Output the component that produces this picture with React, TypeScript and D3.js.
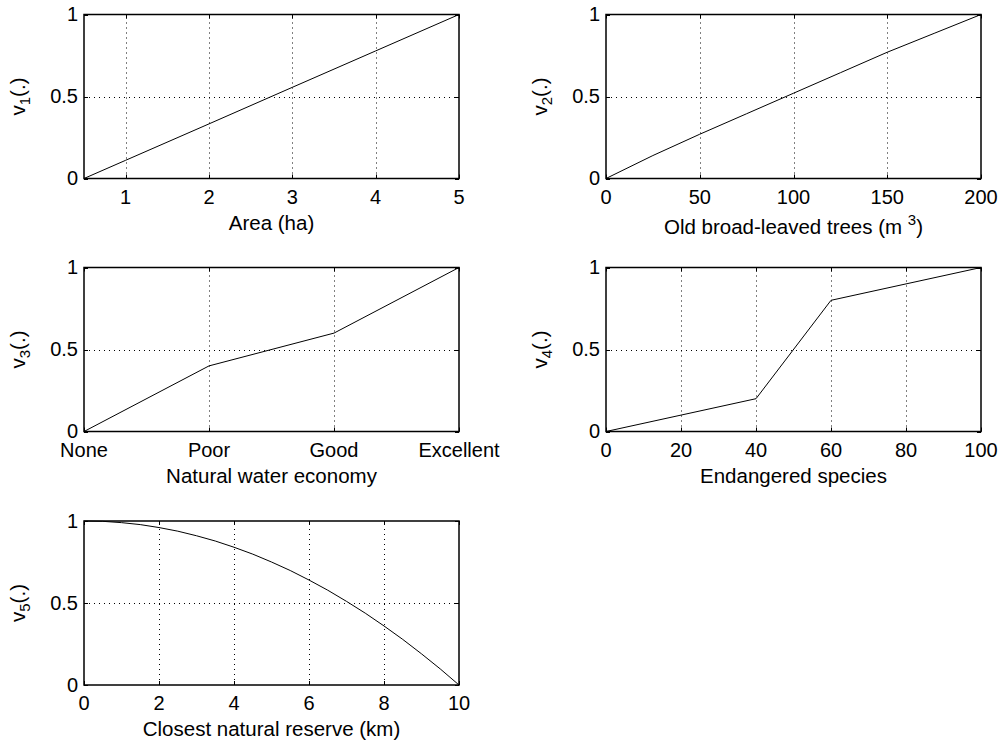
import React from "react";
import * as d3 from "d3";

// ---- data ----
const areaX = [0.5, 1, 2, 3, 4, 5];
const areaV = [0, 0.111, 0.333, 0.556, 0.778, 1];
const areaTicks = [1, 2, 3, 4, 5];

const treesX = [0, 25, 50, 75, 100, 125, 150, 175, 200];
const treesV = [0, 0.14, 0.27, 0.395, 0.52, 0.645, 0.77, 0.885, 1];
const treesTicks = [0, 50, 100, 150, 200];

const waterCats = ["None", "Poor", "Good", "Excellent"];
const waterV = [0, 0.4, 0.6, 1];

const speciesX = [0, 40, 60, 100];
const speciesV = [0, 0.2, 0.8, 1];
const speciesTicks = [0, 20, 40, 60, 80, 100];

const reserveX = [0, 0.5, 1, 1.5, 2, 2.5, 3, 3.5, 4, 4.5, 5, 5.5, 6, 6.5, 7, 7.5, 8, 8.5, 9, 9.5, 10];
const reserveV = [1, 0.998, 0.99, 0.978, 0.96, 0.938, 0.91, 0.878, 0.84, 0.798, 0.75, 0.698, 0.64, 0.578, 0.51, 0.438, 0.36, 0.278, 0.19, 0.098, 0];
const reserveTicks = [0, 2, 4, 6, 8, 10];

const yTicks = [0, 0.5, 1];
const yTickLabels = ["0", "0.5", "1"];

const FONT = "'Liberation Sans', Arial, Helvetica, sans-serif";
const FS = 20;
const LFS = 20.5;

type PanelProps = {
  left: number;
  top: number;
  xs: any[];
  vs: number[];
  xScale: any;
  xTicks: any[];
  xTickLabels: string[];
  sub: string;
  xlabel: React.ReactNode;
  xlabelDy?: number;
};

const W = 375;
const H = 164;
const crisp = (v: number) => Math.round(v) + 0.5;

function Panel({ left, top, xs, vs, xScale, xTicks, xTickLabels, sub, xlabel, xlabelDy = 51 }: PanelProps) {
  const y = d3.scaleLinear().domain([0, 1]).range([top + H, top]);
  const line = d3
    .line<number>()
    .x((_, i) => xScale(xs[i]))
    .y((d) => y(d));
  const x0 = left;
  const x1 = left + W;
  const y0 = top + H;
  const y1 = top;
  const tl = 4;
  return (
    <g>
      {/* grid */}
      {xTicks.map((t, i) => {
        const px = xScale(t);
        if (Math.abs(px - x0) < 1 || Math.abs(px - x1) < 1) return null;
        return (
          <line key={"gx" + i} x1={crisp(px)} x2={crisp(px)} y1={y0} y2={y1} stroke="#000" strokeWidth={1} strokeDasharray="1,4" />
        );
      })}
      {yTicks.map((t, i) => {
        const py = y(t);
        if (Math.abs(py - y0) < 1 || Math.abs(py - y1) < 1) return null;
        return (
          <line key={"gy" + i} x1={x0} x2={x1} y1={crisp(py)} y2={crisp(py)} stroke="#000" strokeWidth={1} strokeDasharray="1,4" />
        );
      })}
      {/* ticks */}
      {xTicks.map((t, i) => {
        const px = xScale(t);
        return (
          <g key={"tx" + i}>
            <line x1={crisp(px)} x2={crisp(px)} y1={y0} y2={y0 - tl} stroke="#000" strokeWidth={1} />
            <line x1={crisp(px)} x2={crisp(px)} y1={y1} y2={y1 + tl} stroke="#000" strokeWidth={1} />
            <text x={px} y={y0 + 25} textAnchor="middle" fontSize={FS} fontFamily={FONT}>
              {xTickLabels[i]}
            </text>
          </g>
        );
      })}
      {yTicks.map((t, i) => {
        const py = y(t);
        return (
          <g key={"ty" + i}>
            <line x1={x0} x2={x0 + tl} y1={crisp(py)} y2={crisp(py)} stroke="#000" strokeWidth={1} />
            <line x1={x1} x2={x1 - tl} y1={crisp(py)} y2={crisp(py)} stroke="#000" strokeWidth={1} />
            <text x={x0 - 6} y={py + 6.5} textAnchor="end" fontSize={FS} fontFamily={FONT}>
              {yTickLabels[i]}
            </text>
          </g>
        );
      })}
      {/* data */}
      <path d={line(vs) || ""} fill="none" stroke="#000" strokeWidth={1} />
      {/* frame */}
      <rect x={x0} y={y1} width={W} height={H} fill="none" stroke="#000" strokeWidth={1.5} />
      {/* labels */}
      <text x={(x0 + x1) / 2} y={y0 + xlabelDy} textAnchor="middle" fontSize={LFS} fontFamily={FONT}>
        {xlabel}
      </text>
      <text
        transform={`translate(${x0 - 59},${(y0 + y1) / 2}) rotate(-90)`}
        textAnchor="middle"
        fontSize={LFS}
        fontFamily={FONT}
      >
        v
        <tspan fontSize={15} dy={5}>
          {sub}
        </tspan>
        <tspan dy={-5}>(.)</tspan>
      </text>
    </g>
  );
}

export default function App() {
  const L1 = 84;
  const L2 = 606;
  const T1 = 14.5;
  const T2 = 267.5;
  const T3 = 521;

  const xArea = d3.scaleLinear().domain([0.5, 5]).range([L1, L1 + W]);
  const xTrees = d3.scaleLinear().domain([0, 200]).range([L2, L2 + W]);
  const xWater = d3.scalePoint<string>().domain(waterCats).range([L1, L1 + W]);
  const xSpecies = d3.scaleLinear().domain([0, 100]).range([L2, L2 + W]);
  const xReserve = d3.scaleLinear().domain([0, 10]).range([L1, L1 + W]);

  return (
    <svg
      width={1001}
      height={745}
      style={{ position: "absolute", left: 0, top: 0, background: "#fff" }}
    >
      <rect x={0} y={0} width={1001} height={745} fill="#fff" />
      <Panel
        left={L1}
        top={T1}
        xs={areaX}
        vs={areaV}
        xScale={xArea}
        xTicks={areaTicks}
        xTickLabels={areaTicks.map(String)}
        sub="1"
        xlabel="Area (ha)"
      />
      <Panel
        left={L2}
        top={T1}
        xs={treesX}
        vs={treesV}
        xScale={xTrees}
        xTicks={treesTicks}
        xTickLabels={treesTicks.map(String)}
        sub="2"
        xlabelDy={55}
        xlabel={
          <>
            Old broad-leaved trees (m{" "}
            <tspan fontSize={15} dy={-9}>
              3
            </tspan>
            <tspan dy={9}>)</tspan>
          </>
        }
      />
      <Panel
        left={L1}
        top={T2}
        xs={waterCats}
        vs={waterV}
        xScale={xWater}
        xTicks={waterCats}
        xTickLabels={waterCats}
        sub="3"
        xlabel="Natural water economy"
      />
      <Panel
        left={L2}
        top={T2}
        xs={speciesX}
        vs={speciesV}
        xScale={xSpecies}
        xTicks={speciesTicks}
        xTickLabels={speciesTicks.map(String)}
        sub="4"
        xlabel="Endangered species"
      />
      <Panel
        left={L1}
        top={T3}
        xs={reserveX}
        vs={reserveV}
        xScale={xReserve}
        xTicks={reserveTicks}
        xTickLabels={reserveTicks.map(String)}
        sub="5"
        xlabel="Closest natural reserve (km)"
      />
    </svg>
  );
}
